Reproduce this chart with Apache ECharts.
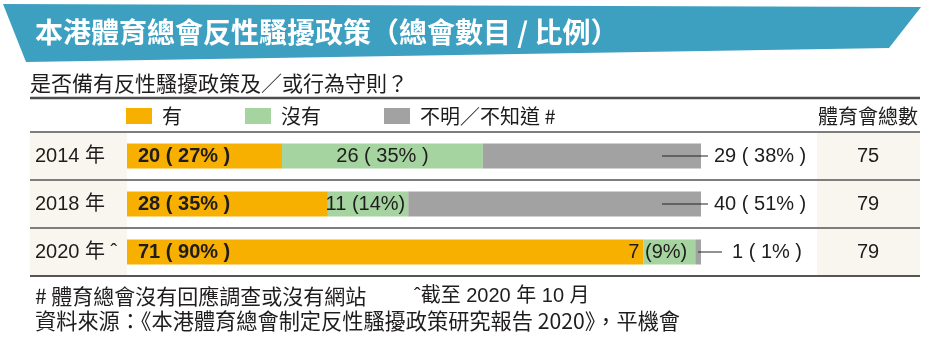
<!DOCTYPE html>
<html><head><meta charset="utf-8">
<script src="https://cdn.jsdelivr.net/npm/echarts@6/dist/echarts.min.js"></script>
<style>html,body{margin:0;padding:0;background:#fff}#c{width:930px;height:346px}</style>
</head><body><div id="c"></div>
<script>
// ---- data ----
const years = ['2014 年', '2018 年', '2020 年 ˆ'];
const seriesNames = ['有', '沒有', '不明／不知道 #'];
const yesCount = [20, 28, 71];
const yesPct = [27, 35, 90];
const noCount = [26, 11, 7];
const noPct = [35, 14, 9];
const unkCount = [29, 40, 1];
const unkPct = [38, 51, 1];
const totals = [75, 79, 79];
const titleText = '本港體育總會反性騷擾政策（總會數目 / 比例）';
const subtitleText = '是否備有反性騷擾政策及／或行為守則？';
const totalHeader = '體育會總數';
const note1 = '# 體育總會沒有回應調查或沒有網站';
const note2 = 'ˆ截至 2020 年 10 月';
const sourceText = '資料來源：《本港體育總會制定反性騷擾政策研究報告 2020》，平機會';

// ---- styles ----
const FONT = "'Liberation Sans','Noto Sans CJK TC',sans-serif";
const CJK = "'Noto Sans CJK TC','Liberation Sans',sans-serif";
const TXT = '#1f1c1d';
const C_YES = '#f7b000', C_NO = '#a6d4a0', C_UNK = '#a2a2a2';
const BEIGE = '#f8f6ee';

const chart = echarts.init(document.getElementById('c'), null, {renderer: 'canvas'});

function hline(y, x1, x2, w, color) {
  return {type: 'line', z: 10, shape: {x1: x1, y1: y, x2: x2, y2: y}, style: {stroke: color, lineWidth: w}};
}
function wide(c, p) { return c + ' ( ' + p + '% )'; }
function narrow(c, p) { return c + ' (' + p + '%)'; }

const option = {
  backgroundColor: '#fff',
  animation: false,
  textStyle: {fontFamily: FONT},
  grid: {left: 127, top: 132, width: 574, height: 144, containLabel: false},
  legend: {
    data: seriesNames,
    left: 126, top: 106, padding: 0,
    icon: 'rect', itemWidth: 26, itemHeight: 16, itemGap: 63,
    textStyle: {fontSize: 20, color: TXT, fontFamily: CJK, padding: [0, 0, 0, 5]},
    selectedMode: false
  },
  xAxis: {type: 'value', min: 0, max: 100, show: false},
  yAxis: [{
    type: 'category', data: years, inverse: true,
    axisLine: {show: false}, axisTick: {show: false}, splitLine: {show: false},
    axisLabel: {align: 'left', margin: 92, fontSize: 20, color: TXT, fontFamily: FONT}
  }, {
    type: 'category', data: years, inverse: true, position: 'right',
    axisLine: {show: false}, axisTick: {show: false}, splitLine: {show: false},
    axisLabel: {align: 'center', margin: 167, fontSize: 20, color: TXT, fontFamily: FONT,
      formatter: function (v, i) { return String(totals[i]); }}
  }],
  series: [{
    name: seriesNames[0], type: 'bar', stack: 'all', barWidth: 25,
    data: yesPct,
    itemStyle: {color: C_YES},
    label: {
      show: true, position: 'insideLeft', distance: 11,
      fontSize: 20, fontWeight: 'bold', color: TXT, textBorderWidth: 0, fontFamily: FONT,
      formatter: function (p) { return wide(yesCount[p.dataIndex], yesPct[p.dataIndex]); }
    }
  }, {
    name: seriesNames[1], type: 'bar', stack: 'all', barWidth: 25,
    data: noPct.map(function (v, i) {
      return {value: v, label: i === 0 ? {position: 'inside'} : {position: 'insideRight', distance: i === 1 ? 3 : 8}};
    }),
    itemStyle: {color: C_NO},
    label: {
      show: true, fontSize: 20, color: TXT, textBorderWidth: 0, fontFamily: FONT,
      formatter: function (p) {
        const i = p.dataIndex;
        return i === 0 ? wide(noCount[i], noPct[i]) : narrow(noCount[i], noPct[i]);
      }
    }
  }, {
    name: seriesNames[2], type: 'bar', stack: 'all', barWidth: 25,
    data: unkPct.map(function (v, i) {
      return {value: v, label: {distance: i === 2 ? -3 : -39}};
    }),
    itemStyle: {color: C_UNK},
    label: {
      show: true, position: 'right', color: TXT, textBorderWidth: 0, fontFamily: FONT, fontSize: 20,
      formatter: function (p) {
        const i = p.dataIndex;
        const s = wide(unkCount[i], unkPct[i]);
        return i === 2 ? '{ln2|}{t2|' + s + '}' : '{ln|}{t|' + s + '}';
      },
      rich: {
        ln: {width: 46, height: 1, backgroundColor: '#222'},
        ln2: {width: 24, height: 1, backgroundColor: '#222'},
        t: {padding: [0, 0, 0, 6], fontSize: 20, color: TXT, fontFamily: FONT},
        t2: {padding: [0, 0, 0, 10], fontSize: 20, color: TXT, fontFamily: FONT}
      }
    }
  }],
  graphic: [
    // banner
    {type: 'polygon', z: 0, shape: {points: [[3, 4], [921, 7], [889, 48], [26, 62]]}, style: {fill: '#3ea0c1'}},
    {type: 'text', z: 5, style: {text: titleText, x: 35, y: 32, verticalAlign: 'middle',
      fontSize: 28, fontWeight: 'bold', fontFamily: CJK, fill: '#ffffff'}},
    {type: 'text', z: 5, style: {text: subtitleText, x: 30, y: 83, verticalAlign: 'middle',
      fontSize: 21, fontFamily: CJK, fill: TXT}},
    // beige columns
    {type: 'rect', z: -1, shape: {x: 30, y: 132, width: 97, height: 144}, style: {fill: BEIGE}},
    {type: 'rect', z: -1, shape: {x: 817, y: 132, width: 103, height: 144}, style: {fill: BEIGE}},
    // header
    {type: 'text', z: 5, style: {text: totalHeader, x: 868, y: 116, align: 'center', verticalAlign: 'middle',
      fontSize: 20, fontFamily: CJK, fill: TXT}},
    // rules
    hline(98, 30, 920, 2.5, '#4d4d4d'),
    hline(132, 30, 920, 2, '#7d7d7d'),
    hline(180, 30, 920, 2, '#7d7d7d'),
    hline(228, 30, 920, 2, '#7d7d7d'),
    hline(276, 30, 920, 2, '#555555'),
    // footnotes
    {type: 'text', z: 5, style: {text: note1, x: 35, y: 296, verticalAlign: 'middle',
      fontSize: 21, fontFamily: CJK, fill: TXT}},
    {type: 'text', z: 5, style: {text: note2, x: 414, y: 296, verticalAlign: 'middle',
      fontSize: 20, fontFamily: FONT, fill: TXT}},
    {type: 'text', z: 5, style: {text: sourceText, x: 35, y: 321, verticalAlign: 'middle',
      fontSize: 21.2, fontFamily: CJK, fill: TXT}}
  ]
};
chart.setOption(option);
</script>
</body></html>
